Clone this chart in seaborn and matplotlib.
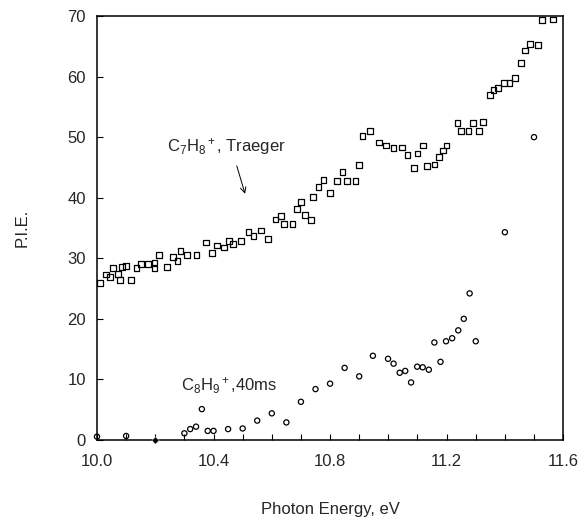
import numpy as np
import matplotlib
matplotlib.use("Agg")
import matplotlib.pyplot as plt
from matplotlib.ticker import MultipleLocator
import seaborn as sns

# C7H8+ (Traeger) - open squares
sq_x = [10.01, 10.03, 10.045, 10.056, 10.073, 10.08, 10.085, 10.10, 10.117, 10.136,
        10.15, 10.176, 10.197, 10.197, 10.213, 10.24, 10.262, 10.276, 10.287, 10.31,
        10.342, 10.375, 10.394, 10.413, 10.436, 10.454, 10.468, 10.494, 10.52, 10.537,
        10.562, 10.588, 10.613, 10.632, 10.643, 10.671, 10.686, 10.70, 10.715, 10.734,
        10.741, 10.76, 10.777, 10.80, 10.823, 10.843, 10.858, 10.887, 10.90, 10.911,
        10.938, 10.967, 10.993, 11.018, 11.047, 11.066, 11.089, 11.10, 11.119, 11.133,
        11.158, 11.173, 11.187, 11.20, 11.237, 11.25, 11.275, 11.29, 11.31, 11.325,
        11.348, 11.361, 11.376, 11.396, 11.416, 11.434, 11.456, 11.468, 11.485, 11.513,
        11.528, 11.566]
sq_y = [25.9, 27.3, 26.9, 28.4, 27.4, 26.4, 28.5, 28.7, 26.4, 28.4,
        29.1, 29.0, 28.3, 29.3, 30.5, 28.6, 30.2, 29.5, 31.2, 30.5,
        30.5, 32.6, 30.9, 32.1, 31.8, 32.8, 32.3, 32.8, 34.3, 33.7,
        34.6, 33.2, 36.4, 37.0, 35.7, 35.7, 38.1, 39.3, 37.1, 36.3,
        40.1, 41.8, 42.9, 40.8, 42.8, 44.3, 42.7, 42.7, 45.4, 50.2,
        51.0, 49.1, 48.6, 48.2, 48.3, 47.1, 44.9, 47.3, 48.6, 45.2,
        45.5, 46.7, 47.8, 48.6, 52.3, 51.0, 51.0, 52.3, 51.0, 52.5,
        57.0, 57.8, 58.1, 58.9, 58.9, 59.8, 62.2, 64.3, 65.4, 65.2,
        69.3, 69.4]

# C8H9+ (40 ms) - open circles
ci_x = [10.0, 10.10, 10.30, 10.32, 10.34, 10.36, 10.38, 10.40, 10.45, 10.50,
        10.55, 10.60, 10.65, 10.70, 10.75, 10.80, 10.85, 10.90, 10.947, 10.999,
        11.018, 11.039, 11.058, 11.078, 11.099, 11.118, 11.139, 11.158, 11.179, 11.198,
        11.219, 11.24, 11.259, 11.279, 11.30, 11.40, 11.50]
ci_y = [0.55, 0.66, 1.1, 1.8, 2.2, 5.1, 1.5, 1.5, 1.8, 1.9,
        3.2, 4.4, 2.9, 6.3, 8.4, 9.3, 11.9, 10.5, 13.9, 13.4,
        12.6, 11.1, 11.4, 9.5, 12.1, 12.0, 11.6, 16.1, 12.9, 16.3,
        16.8, 18.1, 20.0, 24.2, 16.3, 34.3, 50.0]

# single filled point on the axis
fd_x = [10.20]
fd_y = [0.0]

xticks = [10.0, 10.4, 10.8, 11.2, 11.6]
yticks = [0, 10, 20, 30, 40, 50, 60, 70]

sns.set_style("ticks")
plt.rcParams['font.family'] = ['Liberation Sans', 'DejaVu Sans']
plt.rcParams['mathtext.fontset'] = 'custom'
plt.rcParams['mathtext.rm'] = 'Liberation Sans'
plt.rcParams['mathtext.it'] = 'Liberation Sans'

fig = plt.figure(figsize=(5.86, 5.28), dpi=100)
ax = fig.add_axes([0.1655, 0.1667, 0.7955, 0.803])

sns.scatterplot(x=sq_x, y=sq_y, marker='s', s=17, facecolor='none',
                edgecolor='black', linewidth=0.9, ax=ax, clip_on=False)
sns.scatterplot(x=ci_x, y=ci_y, marker='o', s=14, facecolor='none',
                edgecolor='black', linewidth=0.9, ax=ax, clip_on=False)
sns.scatterplot(x=fd_x, y=fd_y, marker='D', s=14, color='black',
                ax=ax, clip_on=False, zorder=5)

ax.set_xlim(10.0, 11.6)
ax.set_ylim(0, 70)
ax.set_xticks(xticks)
ax.set_xticklabels(["%.1f" % v for v in xticks])
ax.set_yticks(yticks)
ax.xaxis.set_minor_locator(MultipleLocator(0.1))
ax.tick_params(axis='both', which='both', direction='in', length=4,
               width=0.8, labelsize=12, pad=8, color='black')
ax.tick_params(axis='x', pad=10)

for sp in ax.spines.values():
    sp.set_linewidth(1.1)
    sp.set_color('black')

ax.set_xlabel("Photon Energy, eV", fontsize=12, labelpad=24)
ax.set_ylabel("P.I.E.", fontsize=12, labelpad=27)

ax.text(10.24, 48.5, r"C$_7$H$_8$$^+$, Traeger", fontsize=12, va='center', ha='left')
ax.annotate("", xy=(10.511, 40.2), xytext=(10.477, 45.7),
            arrowprops=dict(arrowstyle='->', lw=0.7, color='black'))
ax.text(10.29, 8.9, r"C$_8$H$_9$$^+$,40ms", fontsize=12, va='center', ha='left')

fig.savefig("out.png", dpi=100)
